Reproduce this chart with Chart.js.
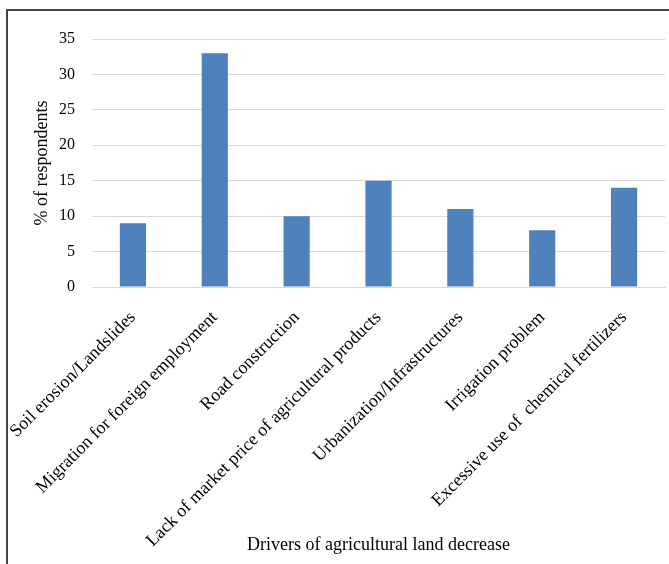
<!DOCTYPE html>
<html>
<head>
<meta charset="utf-8">
<script src="https://cdn.jsdelivr.net/npm/chart.js@4.4.0/dist/chart.umd.min.js"></script>
<style>
  html, body { margin: 0; padding: 0; background: #fff; }
  #wrap { width: 669px; height: 564px; position: relative; }
</style>
</head>
<body>
<div id="wrap"><canvas id="c" width="669" height="564"></canvas></div>
<script>
const drivers = [
  'Soil erosion/Landslides',
  'Migration for foreign employment',
  'Road construction',
  'Lack of market price of agricultural products',
  'Urbanization/Infrastructures',
  'Irrigation problem',
  'Excessive use of  chemical fertilizers'
];
const respondentsPct = [9, 33, 10, 15, 11, 8, 14];
const yTicks = [0, 5, 10, 15, 20, 25, 30, 35];

const serif = '"Liberation Serif", "Times New Roman", serif';

// Frame lines along the top and left edge of the figure
const framePlugin = {
  id: 'frame',
  afterDraw(chart) {
    const ctx = chart.ctx;
    ctx.save();
    ctx.strokeStyle = '#444';
    ctx.lineWidth = 2;
    ctx.beginPath();
    ctx.moveTo(669, 10);
    ctx.lineTo(7, 10);
    ctx.lineTo(7, 564);
    ctx.stroke();
    ctx.restore();
  }
};

new Chart(document.getElementById('c'), {
  type: 'bar',
  data: {
    labels: drivers,
    datasets: [{
      data: respondentsPct,
      backgroundColor: '#4F81BD',
      borderWidth: 0,
      categoryPercentage: 1,
      barPercentage: 0.32
    }]
  },
  plugins: [framePlugin],
  options: {
    responsive: false,
    animation: false,
    layout: { padding: { top: 39, right: 4, left: 31, bottom: 8 } },
    plugins: {
      legend: { display: false },
      tooltip: { enabled: false }
    },
    scales: {
      x: {
        afterFit(axis) {
          axis.height = 269;
          // rotated labels may hang past the left edge of the plot
          axis.paddingLeft = 0;
          axis.paddingRight = 0;
        },
        grid: { display: false, drawTicks: false },
        border: { display: true, color: '#d9d9d9' },
        ticks: {
          autoSkip: false,
          maxRotation: 45,
          minRotation: 45,
          padding: 20,
          color: '#000',
          font: { family: serif, size: 18 }
        },
        title: {
          display: true,
          text: 'Drivers of agricultural land decrease',
          color: '#000',
          font: { family: serif, size: 18 },
          padding: { top: 0, bottom: 0 }
        }
      },
      y: {
        min: 0,
        max: 35,
        afterFit(axis) { axis.width = 61; },
        afterBuildTicks(axis) {
          axis.ticks = yTicks.map(v => ({ value: v }));
        },
        grid: { color: '#d9d9d9', drawTicks: false },
        border: { display: false },
        ticks: {
          padding: 17,
          color: '#000',
          font: { family: serif, size: 16 }
        },
        title: {
          display: true,
          text: '% of respondents',
          color: '#000',
          font: { family: serif, size: 18 },
          padding: { top: 0, bottom: 0 }
        }
      }
    }
  }
});
</script>
</body>
</html>
